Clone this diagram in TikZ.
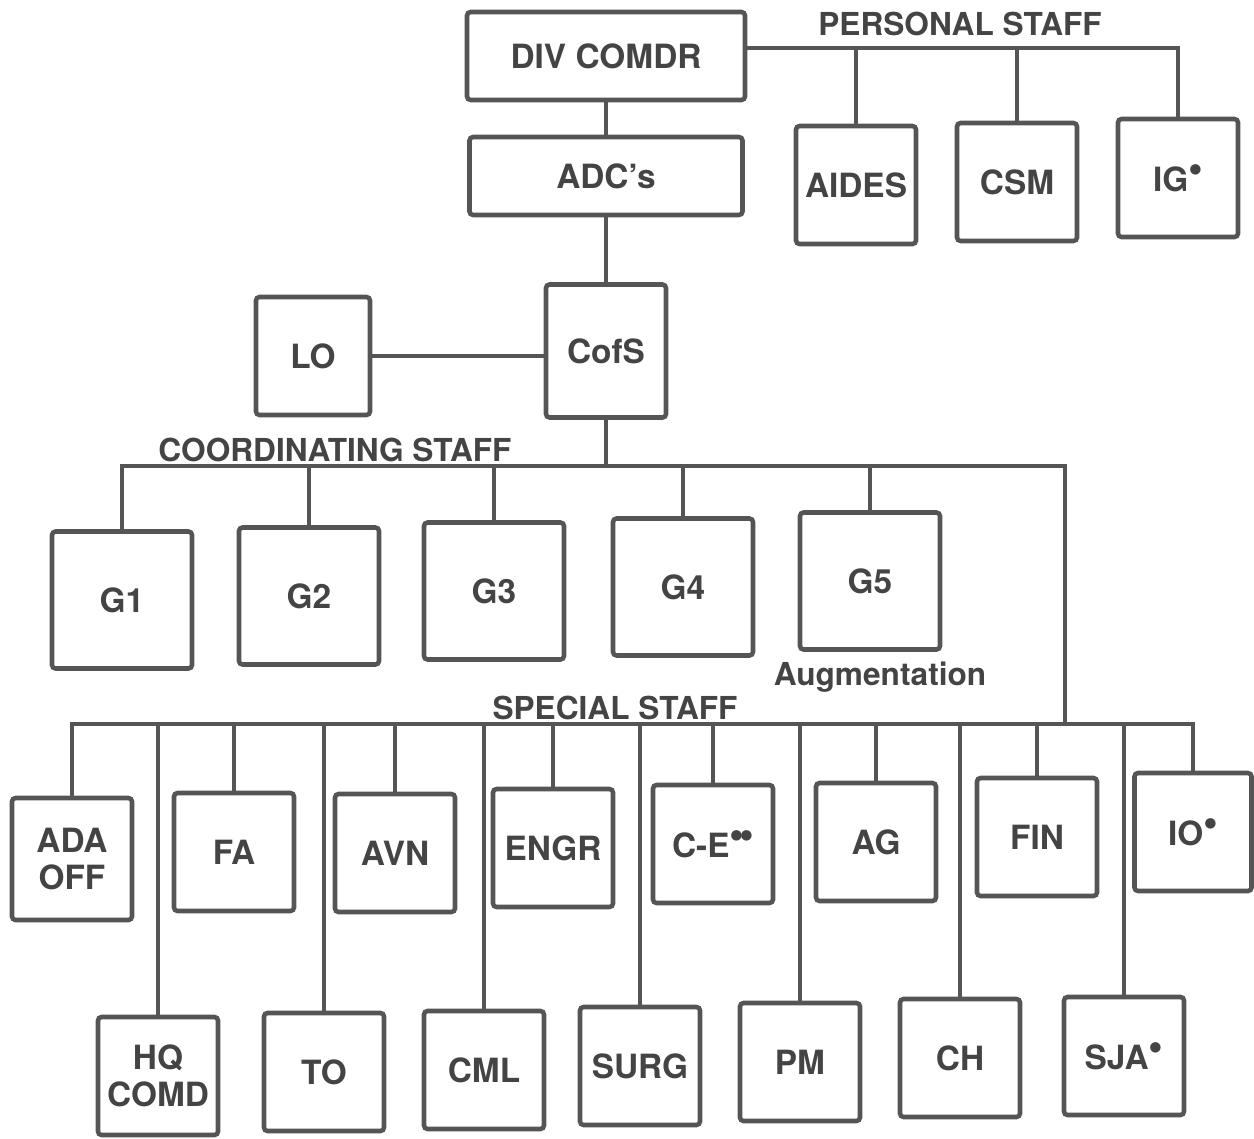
\documentclass[tikz,border=0pt]{standalone}
\usepackage{fontspec}
\setmainfont{TeX Gyre Heros}
\usepackage{tikz}
\usetikzlibrary{calc}
\definecolor{inkgray}{RGB}{85,85,85}
\newcommand{\stardot}{\raisebox{0.26em}{\fontsize{24}{24}\selectfont\textbullet}}
\tikzset{ staff_box/.style = {rectangle, draw=inkgray, line width=2.6pt, rounded corners=2pt, align=center, font=\fontsize{19}{21}\selectfont\bfseries, text=inkgray!80!black, inner sep=0pt} }
\tikzset{ sq_box/.style = {staff_box, minimum width=2.4cm, minimum height=2.36cm} }
\tikzset{ g_box/.style = {staff_box, minimum width=2.8cm, minimum height=2.74cm} }
\tikzset{ staff_lbl/.style = {font=\fontsize{18}{20}\selectfont\bfseries, text=inkgray!80!black} }
\tikzset{ link/.style = {line width=2.6pt, draw=inkgray} }

\begin{document}
\begin{tikzpicture}[x=0.02cm, y=-0.02cm]
                \useasboundingbox (0,0) rectangle (1254,1139);
                % command group
                \node [staff_box, minimum width=5.56cm, minimum height=1.76cm] (DIV) at (606,56) {DIV COMDR};
                \node [staff_box, minimum width=5.46cm, minimum height=1.56cm] (ADC) at (606,176) {ADC's};
                \node [sq_box, minimum height=2.66cm] (CofS) at (606,351) {CofS};
                \node [sq_box, minimum width=2.28cm] (LO) at (313,356) {LO};
                % personal staff
                \node [sq_box] (AIDES) at (856,185) {AIDES};
                \node [sq_box] (CSM) at (1017,182) {CSM};
                \node [sq_box] (IG) at (1178,178) {IG\stardot};
                \node [staff_lbl] (pslbl) at (960,24) {PERSONAL STAFF};
                % coordinating staff
                \node [g_box] (G1) at (122,600) {G1};
                \node [g_box] (G2) at (309,596) {G2};
                \node [g_box] (G3) at (494,591) {G3};
                \node [g_box] (G4) at (683,587) {G4};
                \node [g_box] (G5) at (870,581) {G5};
                \node [staff_lbl] (cslbl) at (335,450) {COORDINATING STAFF};
                \node [staff_lbl] (auglbl) at (880,677) {Augmentation};
                % special staff, upper row
                \node [sq_box, minimum height=2.44cm] (ADA) at (72,859) {ADA\\OFF};
                \node [sq_box] (FA) at (234,852) {FA};
                \node [sq_box] (AVN) at (395,853) {AVN};
                \node [sq_box] (ENGR) at (553,848) {ENGR};
                \node [sq_box] (CE) at (713,844) {C-E\stardot\kern-3pt\stardot};
                \node [sq_box] (AG) at (876,842) {AG};
                \node [sq_box] (FIN) at (1037,837) {FIN};
                \node [sq_box, minimum width=2.34cm] (IO) at (1193,832) {IO\stardot};
                % special staff, lower row
                \node [sq_box] (HQ) at (158,1076) {HQ\\COMD};
                \node [sq_box] (TO) at (324,1072) {TO};
                \node [sq_box] (CML) at (484,1070) {CML};
                \node [sq_box] (SURG) at (640,1066) {SURG};
                \node [sq_box] (PM) at (800,1062) {PM};
                \node [sq_box] (CH) at (960,1058) {CH};
                \node [sq_box] (SJA) at (1124,1056) {SJA\stardot};
                \node [staff_lbl] (sslbl) at (615,708) {SPECIAL STAFF};
                % bus lines
                \coordinate (ps) at (1178,48);
                \coordinate (cs) at (614,466);
                \coordinate (csr) at (1065,466);
                \coordinate (ss) at (1065,724);
                \coordinate (ssr) at (1193,724);
                \draw [link] (DIV.south) to (ADC.north);
                \draw [link] (ADC.south) to (CofS.north);
                \draw [link] (LO.east) to (CofS.west |- LO.east);
                \draw [link] (DIV.east |- ps) -- (ps) -- (IG.north);
                \draw [link] (AIDES.north) -- (AIDES.north |- ps);
                \draw [link] (CSM.north) -- (CSM.north |- ps);
                \draw [link] (CofS.south) -- (CofS.south |- cs);
                \draw [link] (G1.north) -- (G1.north |- cs) -- (csr) -- (ss);
                \foreach \g in {G2,G3,G4,G5}
                        \draw [link] (\g.north) -- (\g.north |- cs);
                \draw [link] (ADA.north) -- (ADA.north |- ss) -- (ssr) -- (IO.north);
                \foreach \s in {FA,AVN,ENGR,CE,AG,FIN}
                        \draw [link] (\s.north) -- (\s.north |- ss);
                \foreach \s in {HQ,TO,CML,SURG,PM,CH,SJA}
                        \draw [link] (\s.north) -- (\s.north |- ss);
        \end{tikzpicture}
\end{document}
